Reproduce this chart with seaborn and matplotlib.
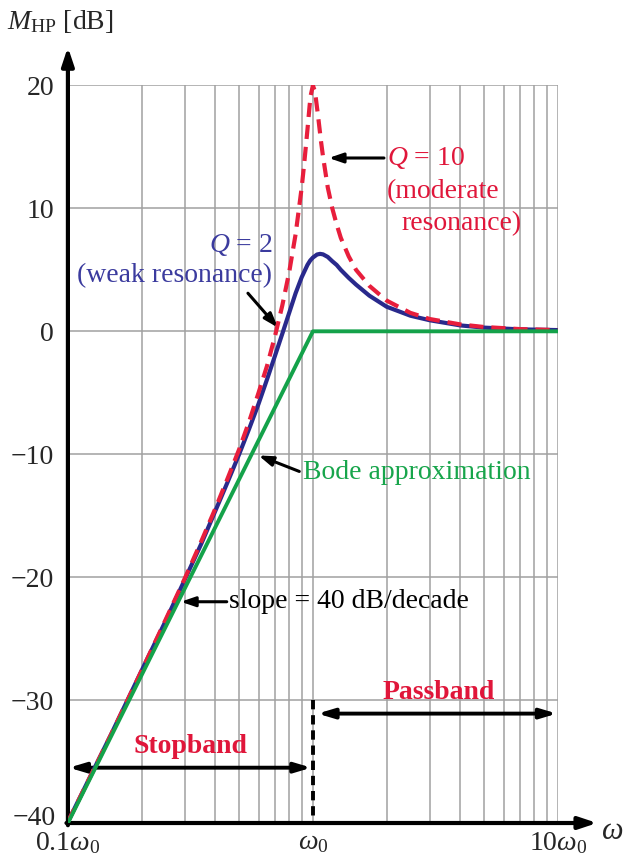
import numpy as np
import pandas as pd
import matplotlib
matplotlib.use("Agg")
import matplotlib.pyplot as plt
import seaborn as sns
from matplotlib.ticker import FixedLocator, NullFormatter

# ---------------- data ----------------
omega_q2 = [0.1, 0.15, 0.2, 0.25, 0.3, 0.35, 0.4, 0.45, 0.5, 0.55, 0.6, 0.65,
            0.7, 0.75, 0.8, 0.85, 0.9, 0.95, 0.975, 1.0, 1.04, 1.07, 1.1, 1.15,
            1.2, 1.25, 1.3, 1.4, 1.5, 1.7, 2.0, 2.5, 3.0, 4.0, 5.0, 7.0, 10.0]
mag_q2 = [-39.9, -32.8, -27.6, -23.6, -20.2, -17.3, -14.6, -12.2, -10.0, -7.9,
          -5.9, -3.9, -2.0, -0.2, 1.5, 3.1, 4.4, 5.4, 5.76, 6.0, 6.25, 6.3,
          6.26, 6.05, 5.7, 5.4, 5.0, 4.35, 3.8, 2.9, 2.0, 1.27, 0.9, 0.48,
          0.3, 0.16, 0.1]

omega_q10 = [0.1, 0.15, 0.2, 0.25, 0.3, 0.35, 0.4, 0.45, 0.5, 0.55, 0.6, 0.65,
             0.7, 0.75, 0.8, 0.85, 0.9, 0.92, 0.95, 0.97, 0.98, 1.0, 1.02,
             1.05, 1.08, 1.1, 1.15, 1.2, 1.25, 1.3, 1.4, 1.5, 1.7, 2.0, 2.5,
             3.0, 4.0, 5.0, 7.0, 10.0]
mag_q10 = [-39.9, -32.8, -27.6, -23.5, -20.1, -17.1, -14.4, -11.9, -9.6, -7.3,
           -5.0, -2.8, -0.4, 2.1, 4.8, 7.9, 11.7, 13.5, 16.4, 18.4, 19.2, 20.0,
           19.5, 17.5, 15.4, 14.2, 11.7, 10.0, 8.7, 7.6, 6.1, 5.0, 3.7, 2.5,
           1.5, 1.0, 0.56, 0.35, 0.18, 0.1]

omega_bode = [0.1, 1.0, 10.0]
mag_bode = [-40.0, 0.0, 0.0]

x_ticks = [0.1, 1.0, 10.0]
x_ticklabels = [r"0.1$\omega_0$", r"$\omega_0$", r"10$\omega_0$"]
y_ticks = [-40, -30, -20, -10, 0, 10, 20]

# ---------------- style ----------------
sns.set_theme(style="white")
plt.rcParams["font.family"] = ["Liberation Serif", "DejaVu Serif"]
plt.rcParams["mathtext.fontset"] = "custom"
plt.rcParams["mathtext.rm"] = "Liberation Serif"
plt.rcParams["mathtext.it"] = "Liberation Serif:italic"
plt.rcParams["mathtext.bf"] = "Liberation Serif:bold"
plt.rcParams["axes.unicode_minus"] = True

BLUE = "#29298c"
RED = "#e81e3c"
GREEN = "#14a24a"
TXT_BLUE = "#3b3b9e"
TXT_RED = "#e0163a"
TXT_GREEN = "#17a54b"
GRID = "#a0a0a0"
FS = 20

fig = plt.figure(figsize=(6.23, 8.59), dpi=100)
ax = fig.add_axes([0.109, 0.0419, 0.7865, 0.8586])

df2 = pd.DataFrame({"omega": omega_q2, "mag": mag_q2})
df10 = pd.DataFrame({"omega": omega_q10, "mag": mag_q10})
dfb = pd.DataFrame({"omega": omega_bode, "mag": mag_bode})

sns.lineplot(data=df2, x="omega", y="mag", color=BLUE, lw=3.0, ax=ax,
             sort=False, estimator=None, zorder=4)
sns.lineplot(data=df10, x="omega", y="mag", color=RED, lw=3.0, ax=ax,
             sort=False, estimator=None, zorder=5)
ax.lines[-1].set_dashes([3.4, 1.9])
sns.lineplot(data=dfb, x="omega", y="mag", color=GREEN, lw=2.8, ax=ax,
             sort=False, estimator=None, zorder=6)

ax.set_xscale("log")
ax.set_xlim(0.1, 10)
ax.set_ylim(-40, 20)

# grid
ax.xaxis.set_major_locator(FixedLocator(x_ticks))
minor = [m * d for d in (0.1, 1.0) for m in range(2, 10)]
ax.xaxis.set_minor_locator(FixedLocator(minor))
ax.xaxis.set_minor_formatter(NullFormatter())
ax.set_xticklabels(x_ticklabels)
ax.set_yticks(y_ticks)
ylabels = [f"{v}".replace("-", "\u2212") for v in y_ticks]
ax.set_yticklabels([""] + ylabels[1:])
ax.grid(True, which="both", axis="x", color=GRID, lw=1.1)
ax.grid(True, which="major", axis="y", color=GRID, lw=1.1)
ax.set_axisbelow(True)
for s in ax.spines.values():
    s.set_visible(False)
ax.tick_params(axis="x", which="major", direction="in", length=6, width=2.2,
               color="black", labelsize=FS, pad=5)
ax.tick_params(axis="x", which="minor", length=0)
ax.tick_params(axis="y", length=0, labelsize=FS, pad=10)
ax.set_xlabel("")
ax.set_ylabel("")
# lowest y label sits a little higher, just above the x tick labels
ax.text(-0.024, 0.006, ylabels[0], transform=ax.transAxes, fontsize=FS,
        ha="right", va="center")

# axis arrows
arrow_kw = dict(arrowstyle="-|>,head_length=0.9,head_width=0.3", color="black",
                lw=3.0, shrinkA=0, shrinkB=0)
ax.annotate("", xy=(0, 1.052), xytext=(0, -0.003), xycoords="axes fraction",
            textcoords="axes fraction", arrowprops=arrow_kw, annotation_clip=False)
ax.annotate("", xy=(1.08, 0), xytext=(-0.003, 0), xycoords="axes fraction",
            textcoords="axes fraction", arrowprops=arrow_kw, annotation_clip=False)

ax.text(-0.125, 1.087, r"$M_{\mathrm{HP}}$ [dB]", transform=ax.transAxes,
        fontsize=FS, ha="left", va="center")
ax.text(1.087, -0.012, r"$\omega$", transform=ax.transAxes,
        fontsize=FS + 2, ha="left", va="center")

# annotations
ann_kw = dict(arrowstyle="-|>,head_length=0.7,head_width=0.24", color="black",
              lw=2.2, shrinkA=0, shrinkB=0)

ax.text(2.0, 14.1, r"$Q$ = 10", color=TXT_RED, fontsize=FS, ha="left", va="center")
ax.text(2.0, 11.4, "(moderate", color=TXT_RED, fontsize=FS, ha="left", va="center")
ax.text(2.3, 8.8, "resonance)", color=TXT_RED, fontsize=FS, ha="left", va="center")
ax.annotate("", xy=(1.16, 14.1), xytext=(1.95, 14.1), arrowprops=ann_kw)

ax.text(0.51, 7.0, r"$Q$ = 2", color=TXT_BLUE, fontsize=FS, ha="center", va="center")
ax.text(0.272, 4.5, "(weak resonance)", color=TXT_BLUE, fontsize=FS,
        ha="center", va="center")
ax.annotate("", xy=(0.72, 0.3), xytext=(0.543, 3.1), arrowprops=ann_kw)

ax.text(0.91, -11.5, "Bode approximation", color=TXT_GREEN, fontsize=FS,
        ha="left", va="center")
ax.annotate("", xy=(0.60, -10.1), xytext=(0.88, -11.4), arrowprops=ann_kw)

ax.text(0.455, -22.0, "slope = 40 dB/decade", color="black", fontsize=FS,
        ha="left", va="center")
ax.annotate("", xy=(0.289, -22.0), xytext=(0.445, -22.0), arrowprops=ann_kw)

# passband / stopband
band_kw = dict(arrowstyle="<|-|>,head_length=0.8,head_width=0.24", color="black",
               lw=2.8, shrinkA=0, shrinkB=0)
ax.annotate("", xy=(9.9, -31.1), xytext=(1.045, -31.1), arrowprops=band_kw,
            annotation_clip=False)
ax.annotate("", xy=(0.985, -35.5), xytext=(0.101, -35.5), arrowprops=band_kw,
            annotation_clip=False)
ax.plot([1.0, 1.0], [-30, -40], color="black", lw=2.8, dashes=[2.4, 1.5],
        zorder=7, clip_on=False)
ax.text(3.25, -29.4, "Passband", color=TXT_RED, fontsize=FS, fontweight="bold",
        ha="center", va="center")
ax.text(0.317, -33.8, "Stopband", color=TXT_RED, fontsize=FS, fontweight="bold",
        ha="center", va="center")

fig.savefig("out.png", dpi=100)
